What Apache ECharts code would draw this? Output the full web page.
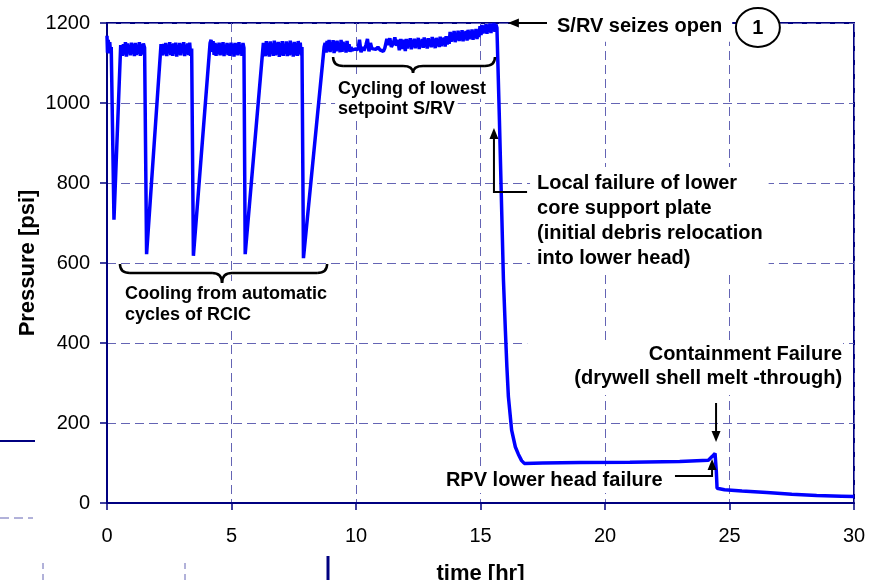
<!DOCTYPE html>
<html>
<head>
<meta charset="utf-8">
<script src="https://cdn.jsdelivr.net/npm/echarts@6/dist/echarts.min.js"></script>
<style>
  html, body { margin: 0; padding: 0; background: #ffffff; }
  #chart { width: 870px; height: 580px; }
</style>
</head>
<body>
<div id="chart"></div>
<script>
// ---- axis ticks ----
const timeTicks = [0, 5, 10, 15, 20, 25, 30];          // hr
const pressureTicks = [0, 200, 400, 600, 800, 1000, 1200]; // psi

// ---- RPV pressure history ----
// Sparse points: start-up, each RCIC cooldown dip and recovery [hr, psi]
const rcicEdges = [
  [0.00, 1168], [0.02, 1126], [0.05, 1158], [0.08, 1124], [0.11, 1152], [0.14, 1128], [0.17, 1140],
  [0.28, 708], [0.55, 1145],
  [1.51, 1138], [1.59, 622], [2.17, 1147],
  [3.40, 1136], [3.47, 618], [4.14, 1150],
  [5.50, 1138], [5.55, 622], [6.28, 1150],
  [7.83, 1140], [7.89, 612], [8.72, 1140]
];

// Logged samples (every 0.04 hr) while the lowest-setpoint S/RV chatters at the top of its band
const SAMPLE_STEP = 0.04;
const bandStarts = [0.58, 2.20, 4.18, 6.32, 8.76, 12.02, 13.78, 14.98];
const srvBand1 = [1150,1118,1147,1121,1152,1116,1149,1124,1145,1119,1151,1122,1148,1117,1150,1120,1146,1123,1152,1118,1147,1121,1149];
const srvBand2 = [1151,1119,1148,1122,1150,1117,1146,1124,1152,1120,1147,1118,1149,1123,1151,1116,1145,1121,1150,1119,1148,1125,1152,1117,1146,1122,1149,1120,1151,1118];
const srvBand3 = [1158,1128,1155,1120,1150,1118,1147,1123,1151,1119,1149,1121,1152,1117,1146,1124,1150,1120,1148,1118,1151,1122,1147,1116,1150,1121,1149,1119,1152,1123,1146,1118,1150];
const srvBand4 = [1152,1117,1155,1120,1150,1116,1154,1122,1149,1118,1156,1119,1151,1121,1153,1115,1150,1120,1155,1118,1148,1123,1154,1117,1151,1119,1156,1121,1149,1116,1153,1120,1150,1118,1155,1122,1151,1119];
const srvBand5 = [1150,1126,1155,1130,1158,1127,1152,1132,1157,1125,1154,1129,1156,1131,1150,1127,1158,1128,1153,1133,1149,1126,1155,1130,1147,1128,1140];
const srvBand6 = [1160,1136,1158,1140,1162,1134,1157,1141,1161,1137,1159,1139,1163,1135,1156,1142,1160,1138,1164,1140,1158,1136,1162,1143,1159,1139,1165,1141,1160,1137,1163,1144,1161,1140,1166,1142,1162,1145,1164,1141,1167,1146,1163,1148];
const srvBand7 = [1178,1153,1176,1156,1180,1152,1175,1158,1181,1155,1177,1157,1182,1154,1178,1160,1180,1156,1183,1159,1179,1161,1184,1158,1181,1163,1185,1160,1183,1165];
const srvBand8 = [1192,1170,1195,1174,1193,1176,1197,1173,1196,1178,1199,1175,1198,1180,1200,1178,1196];
const srvBands = [srvBand1, srvBand2, srvBand3, srvBand4, srvBand5, srvBand6, srvBand7, srvBand8];

// Slower S/RV cycling once RCIC is lost [hr, psi]
const srvCycling = [
  [9.84,1132],[9.90,1128],[9.96,1135],[10.02,1130],[10.08,1134],[10.14,1158],[10.20,1127],[10.26,1140],
  [10.32,1131],[10.40,1145],[10.46,1160],[10.52,1129],[10.58,1150],[10.64,1136],[10.72,1138],[10.80,1134],
  [10.88,1140],[10.96,1133],[11.04,1137],[11.10,1129],[11.16,1138],[11.24,1160],[11.30,1145],[11.36,1162],
  [11.42,1140],[11.50,1150],[11.56,1164],[11.62,1143],[11.68,1158],[11.74,1132],[11.80,1160],[11.86,1135],
  [11.92,1158],[11.98,1130]
];

// Depressurisation after the S/RV seizes open, RPV lower head failure and containment failure [hr, psi]
const blowdown = [
  [15.66,1188],[15.76,957],[15.92,560],[16.00,430],[16.06,340],[16.12,266],[16.25,182],[16.40,140],
  [16.52,122],[16.65,106],[16.76,99],[17.50,100],[19.00,101],[21.00,102],[23.00,104],[24.15,107],
  [24.30,116],[24.42,124],[24.47,80],[24.50,37],[24.80,33],[25.50,30],[26.50,26],[27.50,22],
  [28.50,19],[29.50,17],[30.00,16]
];

function sampled(start, values) {
  return values.map((v, i) => [Number((start + i * SAMPLE_STEP).toFixed(2)), v]);
}

const pressureTrace = rcicEdges
  .concat(...srvBands.map((vals, k) => sampled(bandStarts[k], vals)))
  .concat(srvCycling, blowdown)
  .sort((a, b) => a[0] - b[0]);

// ---- styling ----
const FONT = '"Liberation Sans", Arial, Helvetica, sans-serif';
const NAVY = '#000080';
const GRID_DASH = '#6464b4';

const chart = echarts.init(document.getElementById('chart'), null, { renderer: 'canvas' });

chart.setOption({
  animation: false,
  backgroundColor: '#ffffff',
  grid: {
    left: 107, right: 16, top: 23, bottom: 77,
    outerBoundsMode: 'none',
    show: true, borderColor: NAVY, borderWidth: 2, backgroundColor: 'transparent'
  },
  xAxis: {
    type: 'value',
    min: timeTicks[0], max: timeTicks[timeTicks.length - 1], interval: timeTicks[1] - timeTicks[0],
    name: 'time [hr]', nameLocation: 'middle', nameGap: 60,
    nameTextStyle: { fontFamily: FONT, fontSize: 22, fontWeight: 'bold', color: '#000' },
    axisLine: { show: true, lineStyle: { color: NAVY, width: 2 } },
    axisTick: { show: true, inside: false, length: 7, lineStyle: { color: NAVY, width: 1.5 } },
    axisLabel: { fontFamily: FONT, fontSize: 20, color: '#000', margin: 23, formatter: v => String(v) },
    splitLine: { show: true, lineStyle: { color: GRID_DASH, width: 1, type: [9, 5] } }
  },
  yAxis: {
    type: 'value',
    min: pressureTicks[0], max: pressureTicks[pressureTicks.length - 1], interval: pressureTicks[1] - pressureTicks[0],
    name: 'Pressure [psi]', nameLocation: 'middle', nameGap: 68, nameRotate: 90, nameMoveOverlap: false,
    nameTextStyle: { fontFamily: FONT, fontSize: 22, fontWeight: 'bold', color: '#000' },
    axisLine: { show: true, lineStyle: { color: NAVY, width: 2 } },
    axisTick: { show: true, inside: false, length: 7, lineStyle: { color: NAVY, width: 1.5 } },
    axisLabel: { fontFamily: FONT, fontSize: 20, color: '#000', margin: 17, formatter: v => String(v) },
    splitLine: { show: true, lineStyle: { color: GRID_DASH, width: 1, type: [9, 5] } }
  },
  series: [{
    name: 'RPV pressure',
    type: 'line',
    data: pressureTrace,
    showSymbol: false,
    symbol: 'none',
    lineStyle: { color: '#0000ff', width: 3.5 },
    z: 3
  }]
});

// ---- annotations, placed in data units so they follow the axes ----
const at = (t, p) => chart.convertToPixel({ gridIndex: 0 }, [t, p]);
const INK = { stroke: '#000', lineWidth: 2.5, fill: null };

function arrowHead(tip, dir) {
  // dir: 'left' | 'up' | 'down'
  const L = 11, W = 4.5;
  const [x, y] = tip;
  let pts;
  if (dir === 'left') pts = [[x, y], [x + L, y - W], [x + L, y + W]];
  else if (dir === 'up') pts = [[x, y], [x - W, y + L], [x + W, y + L]];
  else pts = [[x, y], [x - W, y - L], [x + W, y - L]];
  return { type: 'polygon', z: 20, shape: { points: pts }, style: { fill: '#000' } };
}

function polyline(points) {
  return { type: 'polyline', z: 20, shape: { points: points.map(p => at(p[0], p[1])) },
           style: { stroke: '#000', lineWidth: 2, fill: null } };
}

// Curly brace opening downward: curled ends at pEnds, bar at pBar, point at pTip
function brace(tLeft, tRight, tMid, pEnds, pBar, pTip) {
  const [x1, yTop] = at(tLeft, pEnds);
  const [x2] = at(tRight, pEnds);
  const [xc, yMid] = at(tMid, pBar);
  const yTip = at(tMid, pTip)[1];
  const r = 10;
  const curve = (ax, ay, bx, by, cx, cy) =>
    ({ type: 'bezierCurve', z: 20, shape: { x1: ax, y1: ay, x2: bx, y2: by, cpx1: cx, cpy1: cy }, style: INK });
  const seg = (ax, bx) =>
    ({ type: 'line', z: 20, shape: { x1: ax, y1: yMid, x2: bx, y2: yMid }, style: INK });
  return [
    curve(x1, yTop, x1 + r, yMid, x1, yMid),
    seg(x1 + r, xc - r),
    curve(xc - r, yMid, xc, yTip, xc, yMid),
    curve(xc, yTip, xc + r, yMid, xc, yMid),
    seg(xc + r, x2 - r),
    curve(x2 - r, yMid, x2, yTop, x2, yMid)
  ];
}

function label(t, p, text, opts, z) {
  const [x, y] = at(t, p);
  return {
    type: 'text', z: z || 15, x: x, y: y,
    style: Object.assign({
      text: text, fill: '#000', fontFamily: FONT, fontWeight: 'bold', fontSize: 20, lineHeight: 24,
      align: 'left', verticalAlign: 'top', backgroundColor: '#ffffff'
    }, opts || {})
  };
}

const circleCenter = at(26.14, 1188.75);

const graphics = [
  // S/RV seizes open
  label(17.67, 1228, 'S/RV seizes open', { padding: [3, 10, 3, 10] }),
  polyline([[17.67, 1200], [16.30, 1200]]),
  arrowHead(at(16.10, 1200), 'left'),
  { type: 'ellipse', z: 18, shape: { cx: circleCenter[0], cy: circleCenter[1], rx: 22, ry: 19.5 },
    style: { fill: '#ffffff', stroke: '#000', lineWidth: 2 } },
  { type: 'text', z: 19, x: circleCenter[0], y: circleCenter[1] + 1,
    style: { text: '1', fill: '#000', fontFamily: FONT, fontWeight: 'bold', fontSize: 20,
             align: 'center', verticalAlign: 'middle' } },

  // Cycling of lowest setpoint S/RV (one box per line so the grid shows past the shorter line)
  ...brace(9.08, 15.58, 12.29, 1115, 1092.5, 1075),
  label(9.16, 1065.9, 'Cycling of lowest', { fontSize: 18, lineHeight: 20, padding: [2, 3, 0, 3] }, 16),
  label(9.16, 1010.9, 'setpoint S/RV', { fontSize: 18, lineHeight: 20, padding: [0, 3, 2, 3] }),

  // Cooling from automatic cycles of RCIC
  ...brace(0.52, 8.84, 4.62, 597.5, 575, 550),
  label(0.60, 555, 'Cooling from automatic\ncycles of RCIC', { fontSize: 18, lineHeight: 21, padding: [3, 3, 3, 3] }),

  // Local failure of lower core support plate
  label(16.99, 840, 'Local failure of lower\ncore support plate\n(initial debris relocation\ninto lower head)',
        { lineHeight: 25, padding: [4, 6, 4, 7] }),
  polyline([[16.87, 777.5], [15.54, 777.5], [15.54, 920]]),
  arrowHead(at(15.54, 937.5), 'up'),

  // Containment failure
  label(29.56, 407.5, 'Containment Failure\n(drywell shell melt -through)',
        { align: 'right', lineHeight: 24, padding: [2, 1, 5, 47] }),
  polyline([[24.46, 250], [24.46, 170]]),
  arrowHead(at(24.46, 152.5), 'down'),

  // RPV lower head failure
  label(13.49, 90, 'RPV lower head failure', { lineHeight: 24, padding: [1, 3, 1, 3] }),
  polyline([[22.81, 67.5], [24.30, 67.5], [24.30, 95]]),
  arrowHead(at(24.30, 110), 'up'),

  // stray rules along the page margins
  { type: 'line', z: 5, shape: { x1: 0, y1: 441, x2: 35, y2: 441 }, style: { stroke: NAVY, lineWidth: 2 } },
  { type: 'line', z: 5, shape: { x1: 0, y1: 518, x2: 33, y2: 518 }, style: { stroke: GRID_DASH, lineWidth: 1, lineDash: [9, 5] } },
  { type: 'line', z: 5, shape: { x1: 43, y1: 563, x2: 43, y2: 580 }, style: { stroke: GRID_DASH, lineWidth: 1, lineDash: [6, 5] } },
  { type: 'line', z: 5, shape: { x1: 185, y1: 563, x2: 185, y2: 580 }, style: { stroke: GRID_DASH, lineWidth: 1, lineDash: [6, 5] } },
  { type: 'line', z: 5, shape: { x1: 328, y1: 556, x2: 328, y2: 580 }, style: { stroke: NAVY, lineWidth: 3 } }
];

chart.setOption({ graphic: graphics });
</script>
</body>
</html>
